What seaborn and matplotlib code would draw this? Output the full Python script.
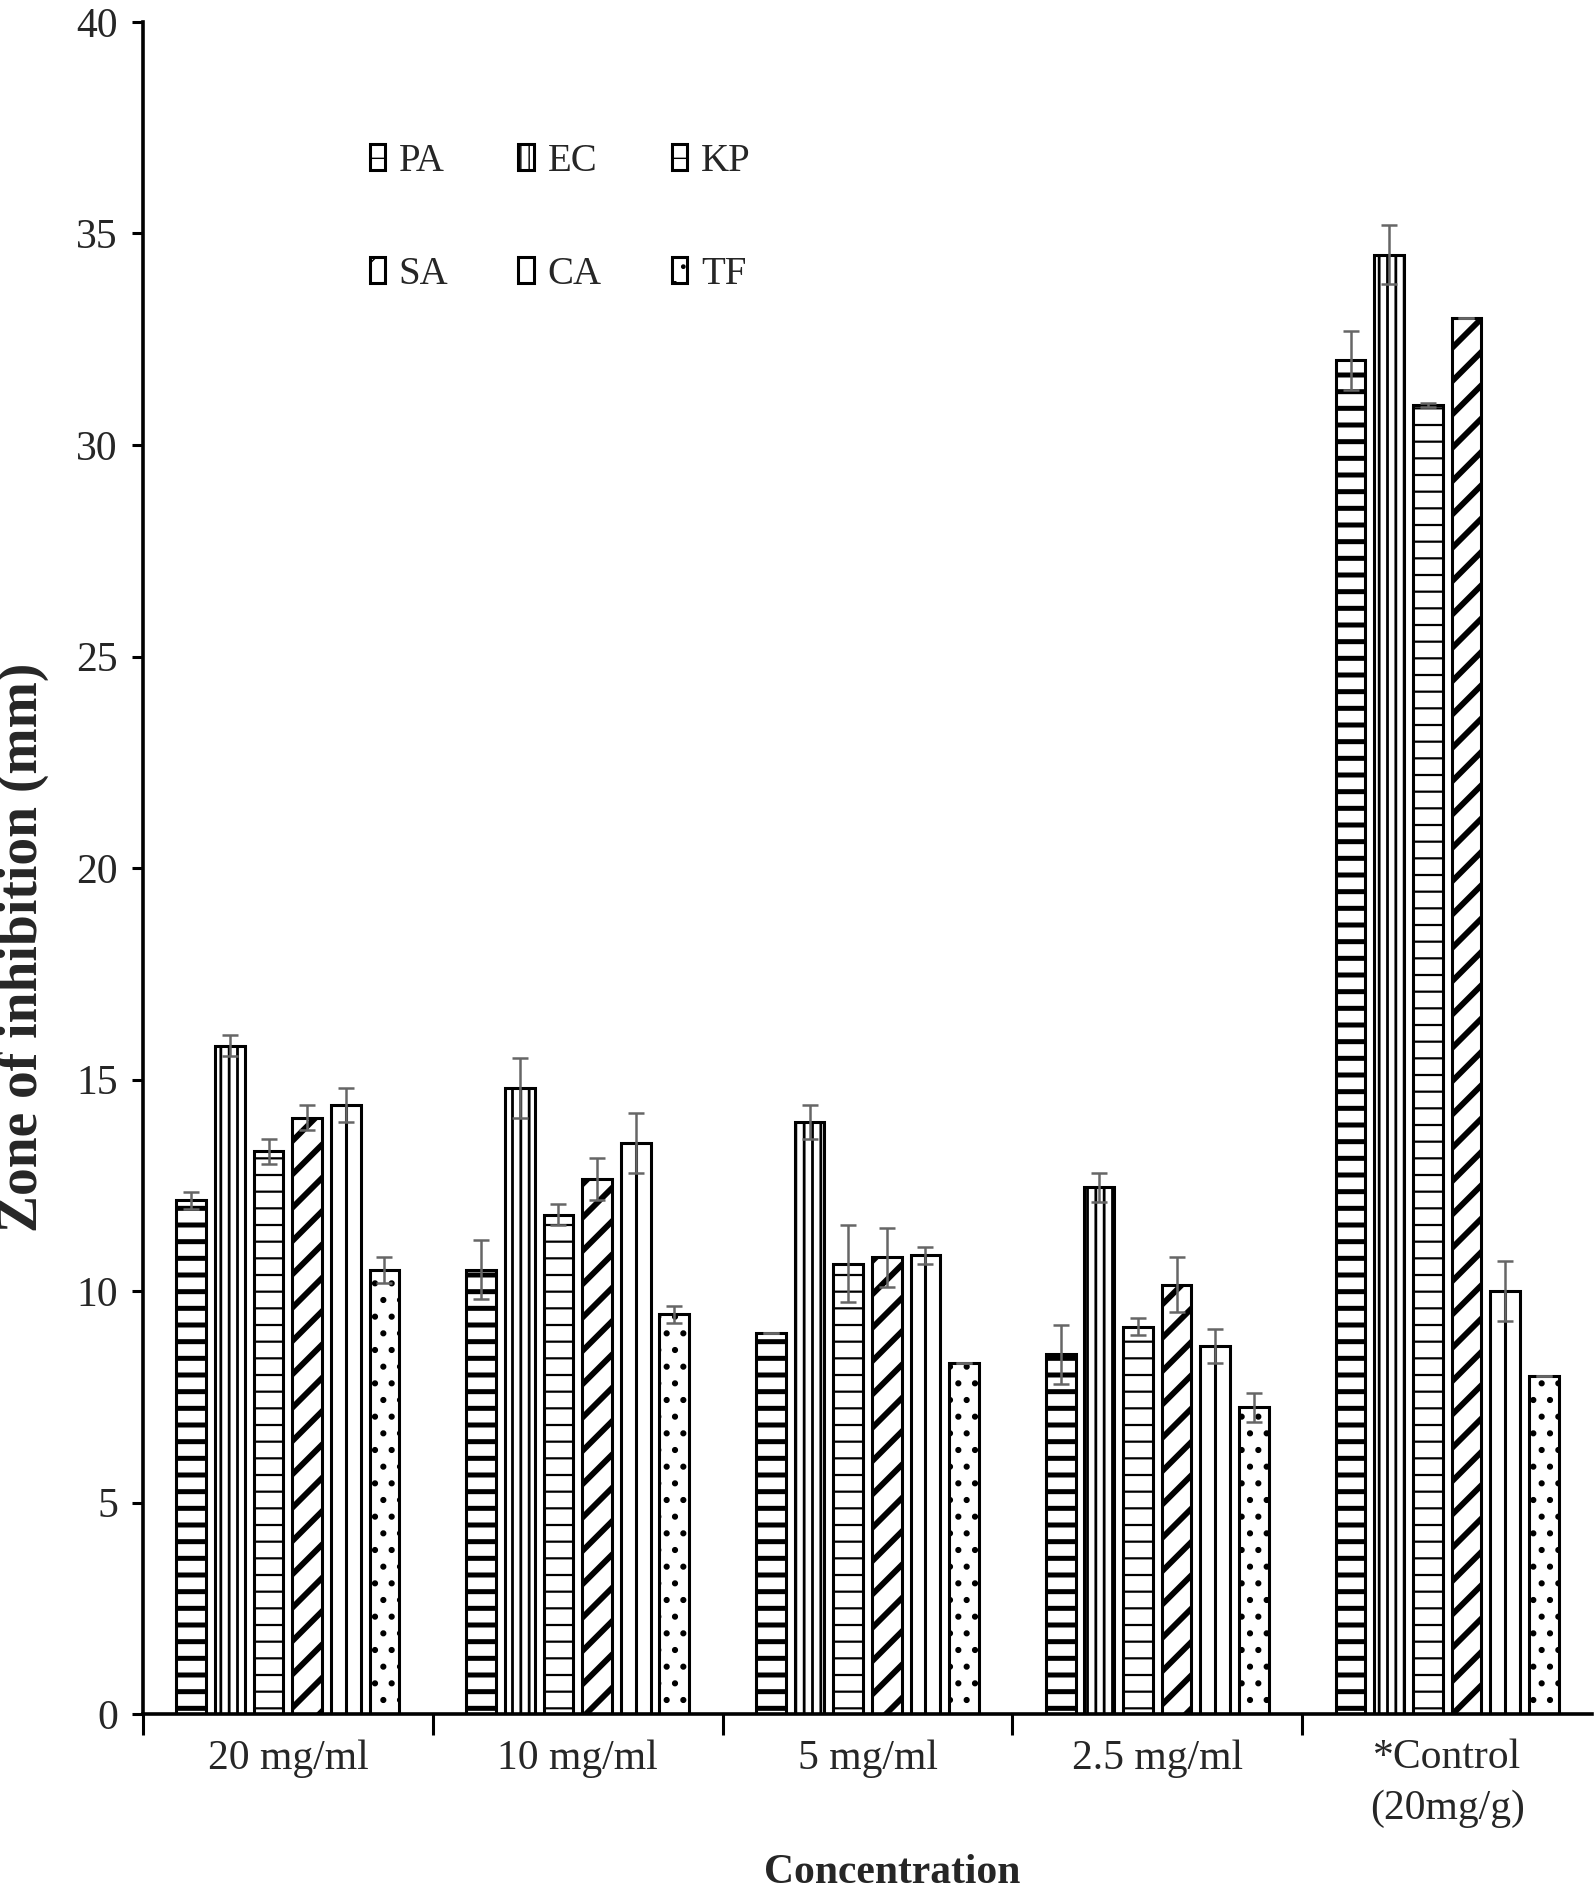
import numpy as np
import pandas as pd
import matplotlib
matplotlib.use("Agg")
import matplotlib.pyplot as plt
import seaborn as sns

# categories
concentrations = ["20 mg/ml", "10 mg/ml", "5 mg/ml", "2.5 mg/ml", "*Control\n(20mg/g)"]
organisms = ["PA", "EC", "KP", "SA", "CA", "TF"]

# zone of inhibition (mm), one list per organism, in concentration order
pa = [12.15, 10.5, 9.0, 8.5, 32.0]
ec = [15.8, 14.8, 14.0, 12.45, 34.5]
kp = [13.3, 11.8, 10.65, 9.15, 30.95]
sa = [14.1, 12.65, 10.8, 10.15, 33.0]
ca = [14.4, 13.5, 10.85, 8.7, 10.0]
tf = [10.5, 9.45, 8.3, 7.25, 8.0]

# standard deviation (+/-)
pa_err = [0.2, 0.7, 0.0, 0.7, 0.7]
ec_err = [0.25, 0.7, 0.4, 0.35, 0.7]
kp_err = [0.3, 0.25, 0.9, 0.2, 0.05]
sa_err = [0.3, 0.5, 0.7, 0.65, 0.0]
ca_err = [0.4, 0.7, 0.2, 0.4, 0.7]
tf_err = [0.3, 0.2, 0.0, 0.35, 0.0]

means = [pa, ec, kp, sa, ca, tf]
errs = [pa_err, ec_err, kp_err, sa_err, ca_err, tf_err]

rows = []
for org, m, e in zip(organisms, means, errs):
    for c, v, s in zip(concentrations, m, e):
        rows.append({"conc": c, "org": org, "zone": v, "sd": s})
df = pd.DataFrame(rows)

sns.set_style("white")
plt.rcParams['font.family'] = ['Liberation Serif', 'DejaVu Serif']
plt.rcParams['hatch.color'] = 'black'

fig = plt.figure(figsize=(15.94, 18.95), dpi=100)
ax = fig.add_axes([143 / 1594, 1 - 1714 / 1895, (1592 - 143) / 1594, (1714 - 22) / 1895])

sns.barplot(data=df, x="conc", y="zone", hue="org", order=concentrations,
            hue_order=organisms, palette={o: "white" for o in organisms},
            errorbar=None, width=0.8, gap=0.23, edgecolor="black",
            linewidth=2.2, ax=ax)
bars = list(ax.containers)

# hatch pattern + hatch line width per organism
hatches = {"PA": ("-", 3.6), "EC": ("||", 2.0), "KP": ("-", 1.6),
           "SA": ("/", 4.2), "CA": ("", 1.0), "TF": (".", 2.0)}

for org, cont in zip(organisms, bars):
    h, hlw = hatches[org]
    for p in cont.patches:
        p.set_hatch(h)
        if hasattr(p, "set_hatch_linewidth"):
            p.set_hatch_linewidth(hlw)
    if org == "CA":
        # single centre line
        xs = [p.get_x() + p.get_width() / 2 for p in cont.patches]
        hs = [p.get_height() for p in cont.patches]
        ax.vlines(xs, 0, hs, color="black", linewidth=2.2, zorder=3)

# error bars
for org, cont, e in zip(organisms, bars, errs):
    xs = [p.get_x() + p.get_width() / 2 for p in cont.patches]
    hs = [p.get_height() for p in cont.patches]
    ax.errorbar(xs, hs, yerr=e, fmt="none", ecolor="#666666",
                elinewidth=1.8, capsize=6, capthick=1.8, zorder=4)

ax.set_xlim(-0.5, 4.5)
ax.set_ylim(0, 40)
ax.set_yticks(np.arange(0, 41, 5))

for s in ["top", "right"]:
    ax.spines[s].set_visible(False)
for s in ["left", "bottom"]:
    ax.spines[s].set_color("black")
    ax.spines[s].set_linewidth(2.6)

ax.tick_params(axis="y", which="major", direction="out", length=8, width=2.2,
               color="black", labelsize=30, pad=10, left=True)
ax.set_xticks(np.arange(-0.5, 4.5, 1), minor=True)
ax.tick_params(axis="x", which="minor", direction="out", length=15, width=2.2,
               color="black", bottom=True)
ax.tick_params(axis="x", which="major", length=0, labelsize=30, pad=18)
for t in ax.get_xticklabels():
    t.set_linespacing(1.4)

ax.set_xlabel("Concentration", fontsize=30, fontweight="bold")
ax.xaxis.set_label_coords(0.517, -0.083)
ax.set_ylabel("Zone of inhibition (mm)", fontsize=40, fontweight="bold")
ax.yaxis.label.set_va("center")
ax.yaxis.set_label_coords(-0.083, 0.453)

leg = ax.get_legend()
if leg is not None:
    leg.remove()
# row-wise order for a 3-column legend: PA EC KP / SA CA TF
order = [0, 3, 1, 4, 2, 5]
handles = [bars[i].patches[0] for i in order]
labels = [organisms[i] for i in order]
ax.legend(handles, labels, loc="upper left", bbox_to_anchor=(0.143, 0.94),
          ncol=3, frameon=False, fontsize=28, handlelength=0.4, handleheight=0.65,
          handletextpad=0.35, columnspacing=1.8, labelspacing=1.95, borderpad=0)

fig.savefig("out.png", dpi=100)
